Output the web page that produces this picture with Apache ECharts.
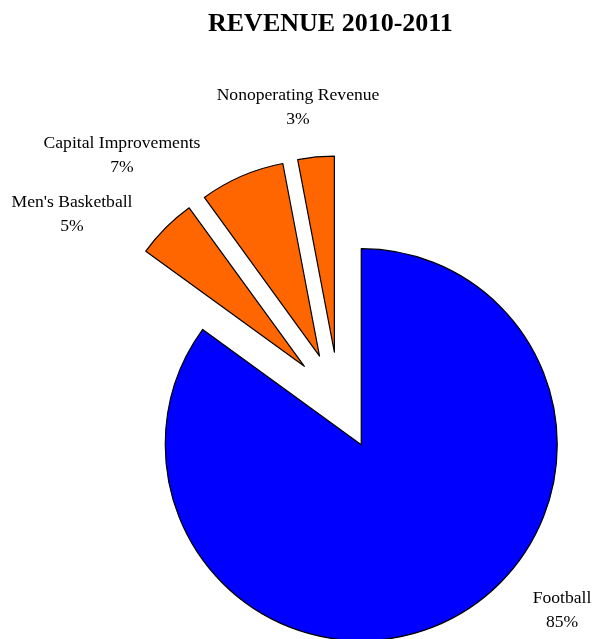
<!DOCTYPE html>
<html>
<head>
<meta charset="utf-8">
<title>Revenue 2010-2011</title>
<script src="https://cdn.jsdelivr.net/npm/echarts@6/dist/echarts.min.js"></script>
<style>
  html, body { margin: 0; padding: 0; background: #ffffff; }
  #chart { width: 599px; height: 639px; }
</style>
</head>
<body>
<div id="chart"></div>
<script>
// Revenue sources, clockwise from 12 o'clock
var categories = ['Football', "Men's Basketball", 'Capital Improvements', 'Nonoperating Revenue'];
var shares = [85, 5, 7, 3];
var sliceColors = ['#0000FF', '#FF6600', '#FF6600', '#FF6600'];

// Where each two-line label block is centred (px)
var labelAnchors = [[562, 610], [72, 214], [122, 155], [298, 107]];

var serif = '"Liberation Serif", "Times New Roman", serif';
var pieCenter = [339, 401];
var pieRadius = 196;

var chart = echarts.init(document.getElementById('chart'), null, { renderer: 'canvas' });

// Exploded slices
var sliceData = categories.map(function (name, i) {
  return {
    name: name,
    value: shares[i],
    selected: true,
    itemStyle: { color: sliceColors[i] }
  };
});

// Same shares again, unfilled, carrying the labels so the slice offset
// does not drag them along
var labelData = categories.map(function (name, i) {
  return { name: name, value: shares[i] };
});

chart.setOption({
  animation: false,
  backgroundColor: '#ffffff',
  title: {
    text: 'REVENUE 2010-2011',
    left: 203,
    top: 6,
    textStyle: {
      fontFamily: serif,
      fontSize: 26,
      fontWeight: 'bold',
      color: '#000000'
    }
  },
  series: [{
    type: 'pie',
    center: pieCenter,
    radius: pieRadius,
    startAngle: 90,
    clockwise: true,
    selectedMode: 'multiple',
    selectedOffset: 49,
    itemStyle: { borderColor: '#000000', borderWidth: 1.2 },
    select: { itemStyle: { borderColor: '#000000', borderWidth: 1.2 } },
    emphasis: { disabled: true },
    label: { show: false },
    labelLine: { show: false },
    data: sliceData
  }, {
    type: 'pie',
    center: pieCenter,
    radius: pieRadius,
    startAngle: 90,
    clockwise: true,
    silent: true,
    selectedMode: false,
    avoidLabelOverlap: false,
    z: 3,
    itemStyle: { color: 'transparent', borderWidth: 0 },
    emphasis: { disabled: true },
    label: {
      show: true,
      position: 'outside',
      formatter: '{b}\n{d}%',
      fontFamily: serif,
      fontSize: 17.6,
      lineHeight: 24,
      color: '#000000'
    },
    labelLine: { show: false },
    labelLayout: function (params) {
      var p = labelAnchors[params.dataIndex];
      return { x: p[0], y: p[1], align: 'center', verticalAlign: 'middle' };
    },
    data: labelData
  }]
});
</script>
</body>
</html>
